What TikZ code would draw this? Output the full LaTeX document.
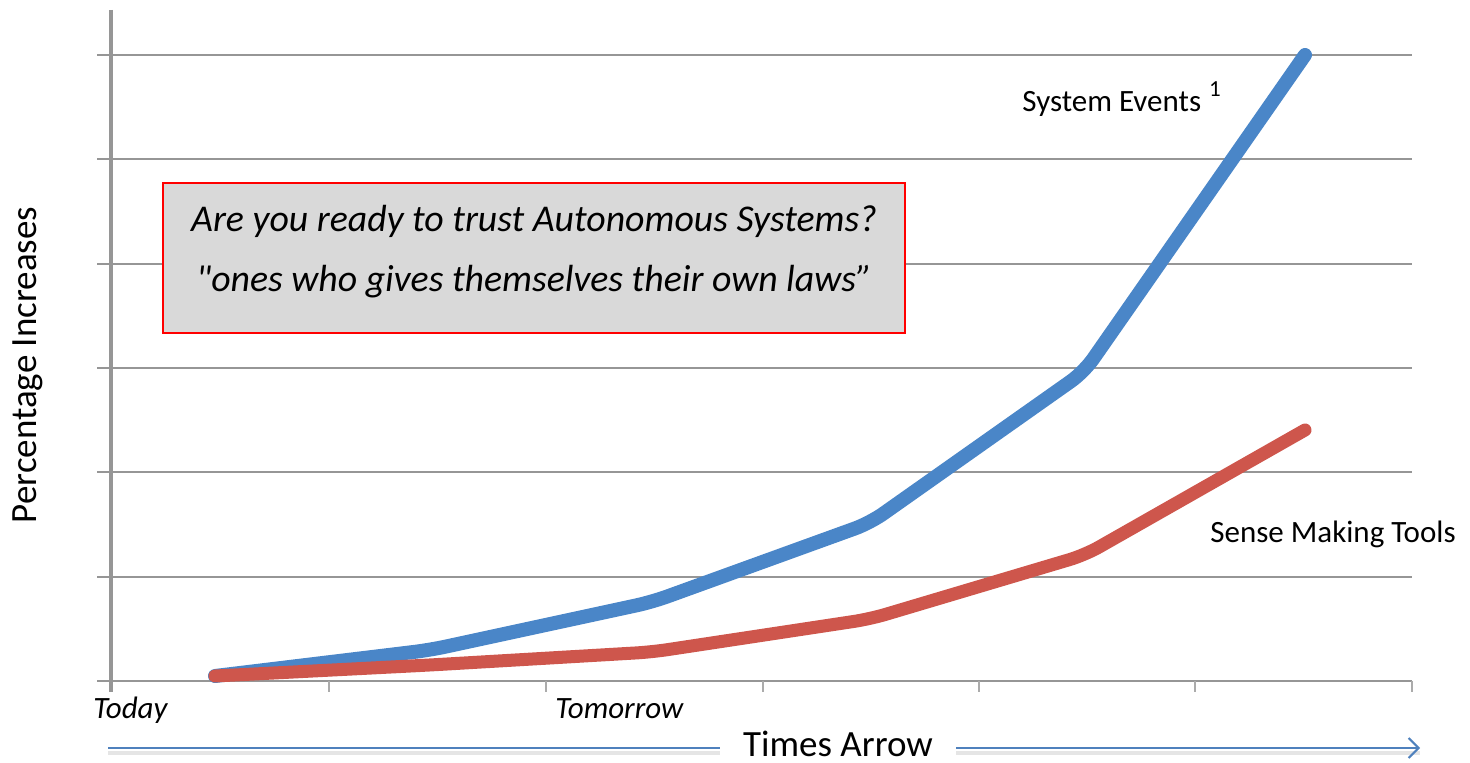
\documentclass[tikz,border=0pt]{standalone}
\usepackage{fontspec}
\setmainfont{Carlito}
\usetikzlibrary{arrows.meta}

\definecolor{seblue}{RGB}{74,134,200}
\definecolor{smred}{RGB}{206,86,76}
\definecolor{gridgray}{RGB}{150,150,150}
\definecolor{boxgray}{RGB}{217,217,217}
\definecolor{arrowblue}{RGB}{79,129,189}

\tikzset{
  gridline/.style={gridgray, line width=1.4pt},
  tickline/.style={gridgray!80, line width=0.8pt},
  series/.style={line width=7pt, line cap=round, line join=round, rounded corners=8pt},
  lbl/.style={font=\fontsize{15.5}{18}\selectfont, inner sep=0pt},
  itlbl/.style={font=\fontsize{15.5}{18}\selectfont\itshape, inner sep=0pt},
  biglbl/.style={font=\fontsize{18.5}{22}\selectfont},
  timeline/.style={arrowblue, line width=1pt},
  timeshadow/.style={black!10, line width=2pt},
}

\begin{document}
\begin{tikzpicture}[x=0.5pt,y=-0.5pt]
  \useasboundingbox (0,0) rectangle (1470,763);

  % grid and axes
  \foreach \y in {55,159,264,368,472,577}
    \draw[gridline] (97,\y) -- (1412,\y);
  \draw[gridline] (97,681) -- (1412,681);
  \draw[gridline, line width=2pt] (111,10) -- (111,692);
  \foreach \x in {329,546,763,979,1195,1412}
    \draw[tickline] (\x,681) -- (\x,692);

  % system events
  \coordinate (se1) at (215,676);
  \coordinate (se2) at (430,650);
  \coordinate (se3) at (652,602);
  \coordinate (se4) at (870,523);
  \coordinate (se5) at (1084,372);
  \coordinate (se6) at (1305,55);
  \draw[series, seblue] (se1) -- (se2) -- (se3) -- (se4) -- (se5) -- (se6);

  % sense making tools
  \coordinate (smt1) at (215,676);
  \coordinate (smt2) at (430,665);
  \coordinate (smt3) at (652,652);
  \coordinate (smt4) at (870,619);
  \coordinate (smt5) at (1085,555);
  \coordinate (smt6) at (1305,430);
  \draw[series, smred, line width=6.5pt] (smt1) -- (smt2) -- (smt3) -- (smt4) -- (smt5) -- (smt6);

  % labels
  \node[lbl, anchor=base west] (sysev) at (1022,112)
    {System Events\hspace{4pt}\raisebox{7.5pt}{\fontsize{11.5}{13}\selectfont 1}};
  \node[lbl, fill=white, anchor=base west, inner xsep=9.5pt, inner ysep=7pt,
        text height=0.85em, text depth=0.25em] (smtlbl) at (1191,543) {Sense Making Tools};
  \node[itlbl, anchor=base west] (today) at (93,718) {Today};
  \node[itlbl, anchor=base west] (tomorrow) at (555,718) {Tomorrow};
  \node[biglbl, rotate=90] (pctlbl) at (28,365) {Percentage Increases};

  \node[draw=red, fill=boxgray, line width=1pt, minimum width=371pt, minimum height=75pt,
        align=center, font=\fontsize{18.9}{31}\selectfont\itshape] (trustbox) at (534,258)
    {Are you ready to trust Autonomous Systems?\\[-1pt]\textquotedbl ones who gives themselves their own laws”\strut};

  % times arrow
  \coordinate (tstart) at (108,748);
  \coordinate (tend) at (1420,748);
  \node[biglbl, inner xsep=11.5pt, inner ysep=0pt] (tarrow) at (838,744) {Times Arrow};
  \draw[timeshadow] ([yshift=-2.5pt]tstart) -- ([yshift=-2.5pt]tstart -| tarrow.west);
  \draw[timeshadow] ([yshift=-2.5pt]tend -| tarrow.east) -- ([yshift=-2.5pt]tend);
  \draw[timeline] (tstart) -- (tstart -| tarrow.west);
  \draw[timeline, -{Straight Barb[length=5pt,width=10pt]}] (tend -| tarrow.east) -- (tend);
\end{tikzpicture}
\end{document}
